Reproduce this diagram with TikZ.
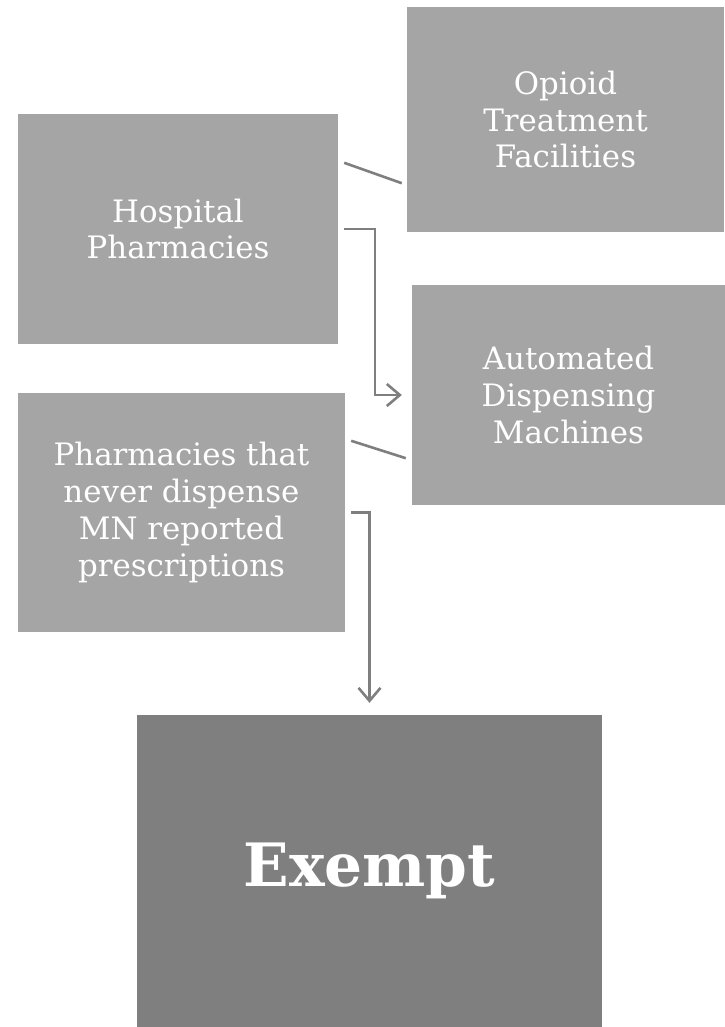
\documentclass[tikz,border=0pt]{standalone}
\usepackage{fontspec}
\setmainfont{DejaVu Serif}
\usetikzlibrary{arrows.meta}
\definecolor{boxgray}{RGB}{165, 165, 165}
\definecolor{darkgray}{RGB}{127, 127, 127}
\begin{document}
\begin{tikzpicture}[x = 1bp, y = -1bp,
		item/.style = {fill = boxgray, text = white, align = center, inner sep = 0pt, font = \fontsize{31}{37}\selectfont},
		link/.style = {draw = darkgray, line width = 2.6bp},
		tip/.style = {-{Straight Barb[length = 13bp, width = 22bp, line width = 2.6bp]}}]
	\useasboundingbox (0, 0) rectangle (725, 1027);
	\node[item, minimum width = 320bp, minimum height = 230bp] (hosp) at (178, 229) {Hospital\\Pharmacies};
	\node[item, minimum width = 317bp, minimum height = 225bp] (opio) at (565.5, 119.5) {Opioid\\Treatment\\Facilities};
	\node[item, minimum width = 313bp, minimum height = 220bp] (auto) at (568.5, 395) {Automated\\Dispensing\\Machines};
	\node[item, minimum width = 327bp, minimum height = 239bp] (phar) at (181.5, 512.5) {Pharmacies that\\never dispense\\MN reported\\prescriptions};
	\node[item, fill = darkgray, minimum width = 464bp, minimum height = 312bp, font = \fontsize{60}{70}\selectfont\bfseries] (exem) at (369.5, 871) {Exempt};
	% connectors
	\draw[link] ([shift = {(6, 49)}]hosp.north east) -- ([shift = {(-5, -49)}]opio.south west);
	\draw[link, tip] ([xshift = 6]hosp.east) -| (375, 395) -- ([xshift = -10]auto.west);
	\draw[link] ([shift = {(6, 48)}]phar.north east) -- ([shift = {(-6, -47)}]auto.south west);
	\draw[link, tip] ([xshift = 6]phar.east) -| ([yshift = 12]exem.north);
\end{tikzpicture}
\end{document}
